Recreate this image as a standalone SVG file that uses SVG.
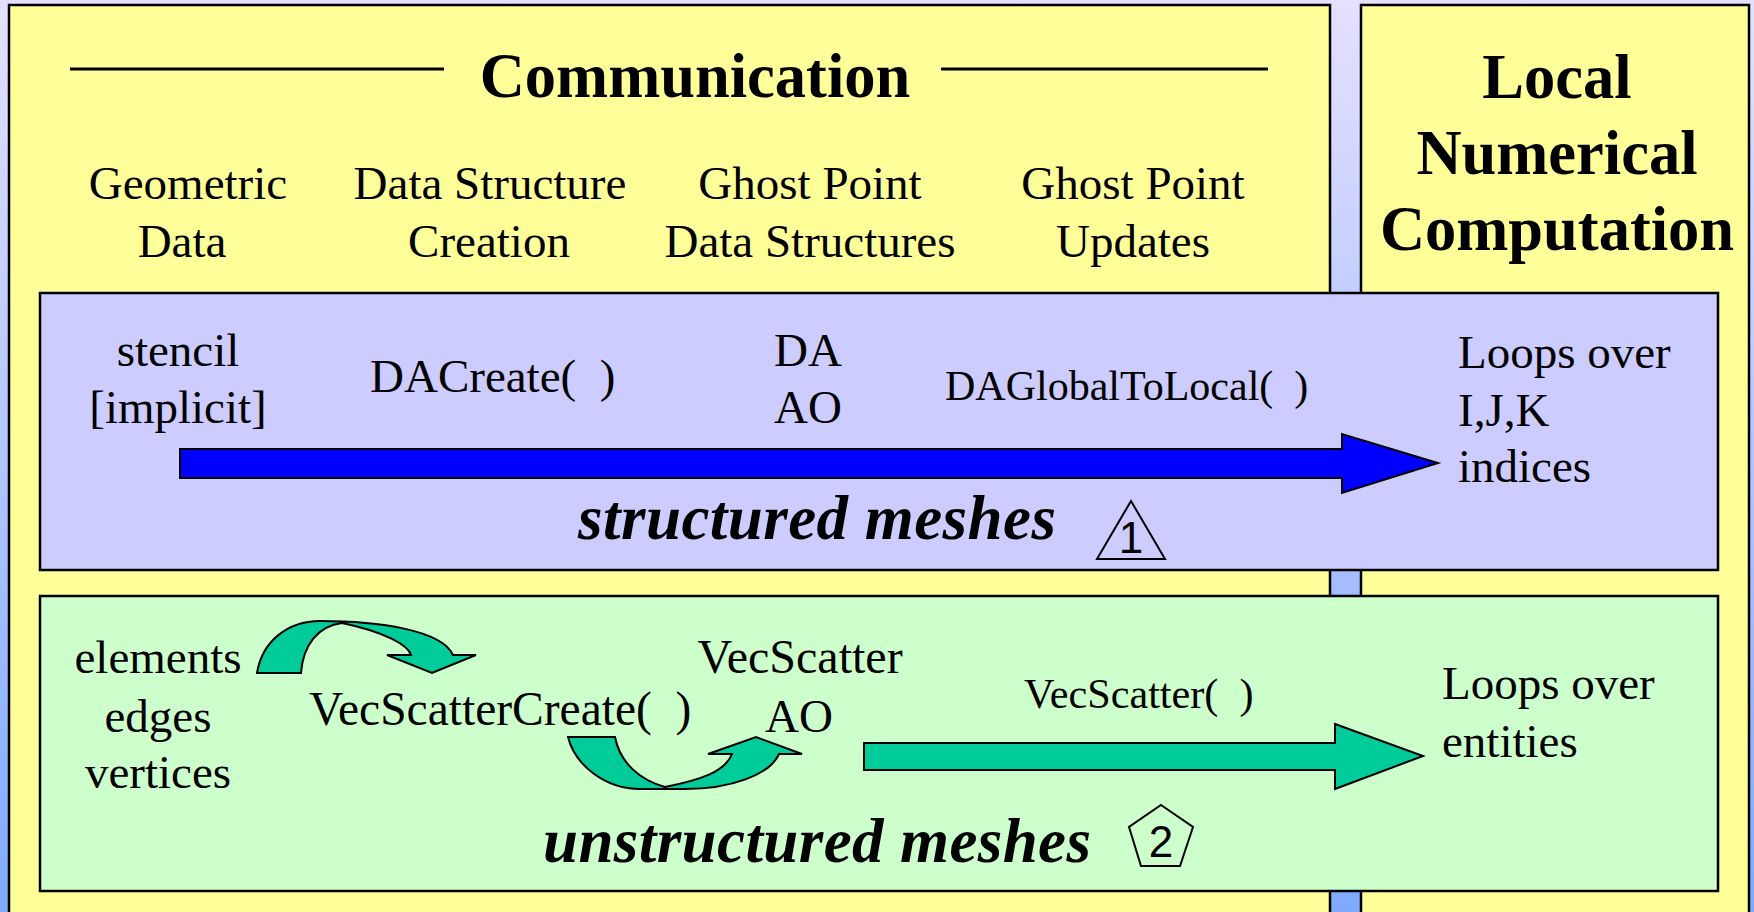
<svg xmlns="http://www.w3.org/2000/svg" width="1754" height="912" viewBox="0 0 1754 912">
<style>
text{font-family:"Liberation Serif","Times New Roman",serif;fill:#000;white-space:pre}
.t{font-size:47px}
.m{text-anchor:middle}
.h{font-size:62.5px;font-weight:bold}
.i{font-size:63px;font-weight:bold;font-style:italic}
.s{font-size:42px}
.n{font-family:"Liberation Sans",Arial,sans-serif;font-size:44px;text-anchor:middle}
.panel{fill:#ffff99;stroke:#000;stroke-width:2.5}
.box{stroke:#000;stroke-width:2.5}
.shape{fill:none;stroke:#000;stroke-width:2}
.rule{stroke:#000;stroke-width:3;fill:none}
.ar{stroke:#000;stroke-width:2;stroke-linejoin:miter}
</style>
<defs><linearGradient id="bg" x1="0" y1="0" x2="0" y2="1"><stop offset="0" stop-color="#e4e0ff"/><stop offset="1" stop-color="#7faaff"/></linearGradient></defs>
<rect width="1754" height="912" fill="url(#bg)"/>
<g id="communication">
<rect class="panel" x="9" y="5" width="1321" height="920"/>
<line class="rule" x1="70" y1="69" x2="444" y2="69"/>
<line class="rule" x1="941" y1="69" x2="1268" y2="69"/>
<text class="h m" x="695" y="97">Communication</text>
<text class="t m" x="188" y="199">Geometric</text>
<text class="t m" x="182" y="257">Data</text>
<text class="t m" x="490" y="199">Data Structure</text>
<text class="t m" x="489" y="257">Creation</text>
<text class="t m" x="810" y="199">Ghost Point</text>
<text class="t m" x="810" y="257">Data Structures</text>
<text class="t m" x="1133" y="199">Ghost Point</text>
<text class="t m" x="1133" y="257">Updates</text>
</g>
<g id="local-computation">
<rect class="panel" x="1361" y="5" width="388" height="920"/>
<text class="h m" x="1557" y="98">Local</text>
<text class="h m" x="1557" y="174">Numerical</text>
<text class="h m" x="1557" y="250">Computation</text>
</g>
<g id="structured">
<rect class="box" x="40" y="293" width="1678" height="277" fill="#ccccff"/>
<text class="t m" x="178" y="366">stencil</text>
<text class="t m" x="178" y="423">[implicit]</text>
<text class="t" x="370" y="392">DACreate(  )</text>
<text class="t" x="774" y="366">DA</text>
<text class="t" x="774" y="423">AO</text>
<text class="s" x="945" y="400">DAGlobalToLocal(  )</text>
<text class="t" x="1458" y="368">Loops over</text>
<text class="t" x="1458" y="426">I,J,K</text>
<text class="t" x="1458" y="482">indices</text>
<text class="i" x="578" y="539" textLength="478" lengthAdjust="spacing">structured meshes</text>
</g>
<g id="badge-1">
<polygon class="shape" points="1131,501 1165,559 1097,559"/>
<text class="n" x="1131" y="553">1</text>
</g>
<g id="unstructured">
<rect class="box" x="40" y="596" width="1678" height="295" fill="#ccffcc"/>
<text class="t m" x="158" y="673">elements</text>
<text class="t m" x="158" y="732">edges</text>
<text class="t m" x="158" y="788">vertices</text>
<text class="t" x="309" y="725" style="font-size:47.5px">VecScatterCreate(  )</text>
<text class="t m" x="800" y="673" style="font-size:48px">VecScatter</text>
<text class="t m" x="799" y="732">AO</text>
<text class="s" x="1024" y="708" style="font-size:42.2px">VecScatter(  )</text>
<text class="t" x="1442" y="699">Loops over</text>
<text class="t" x="1442" y="757">entities</text>
<text class="i" x="543" y="862" textLength="548" lengthAdjust="spacing">unstructured meshes</text>
</g>
<g id="badge-2">
<polygon class="shape" points="1161,805 1193,827 1180,866 1141,866 1129,827"/>
<text class="n" x="1161" y="857">2</text>
</g>
<g id="connectors">
<polygon class="ar" fill="#0000ff" points="180,449 1342,449 1342,434 1438,463 1342,493 1342,478 180,478"/>
<polygon class="ar" fill="#00cc99" points="864,743 1335,743 1335,724 1423,756 1335,789 1335,770 864,770"/>
<path class="ar" fill="#00cc99" d="M257,673 C262,642 287,621 320,621 C378,621 442,630 453,655 L476,655 L432,673 L387,655 L411,655 C408,645 385,632 342,623 C318,626 303,645 301,673 Z"/>
<path class="ar" fill="#00cc99" d="M568,737 L615,737 C620,763 640,780 665,787 C700,780 725,772 732,754 L708,754 L756,737 L802,754 L779,754 C770,775 730,789 685,789 L640,789 C605,789 575,765 568,737 Z"/>
</g>
</svg>
